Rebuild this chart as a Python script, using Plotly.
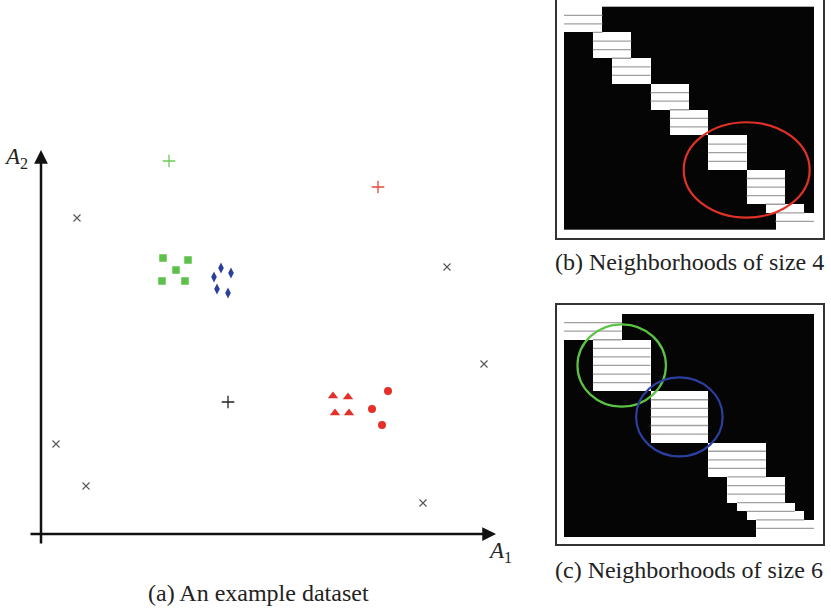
import plotly.graph_objects as go

# ---------------- data: panel (a) example dataset ----------------
noise_x = [3.6, 40.6, 44.3, 1.5, 4.5, 38.2]
noise_y = [31.6, 26.7, 17.0, 9.0, 4.8, 3.1]

plus_x = [12.8, 33.7, 18.7]
plus_y = [37.3, 34.7, 13.2]
plus_colors = ["#6CCB5A", "#E8453C", "#222222"]

square_x = [12.2, 14.7, 13.5, 12.1, 14.4]
square_y = [27.6, 27.4, 26.4, 25.3, 25.3]

diamond_x = [18.0, 17.3, 19.0, 17.6, 18.7]
diamond_y = [26.6, 25.7, 26.1, 24.5, 24.1]

triangle_x = [29.2, 30.7, 29.4, 30.8]
triangle_y = [13.8, 13.7, 12.1, 12.1]

circle_x = [34.7, 33.1, 34.1]
circle_y = [14.3, 12.5, 10.9]

# ---------------- data: neighbourhood matrices ----------------
n_points = 26
size_b = 4
start_b = [0, 0, 0, 3, 3, 3, 5, 5, 5, 9, 9, 9, 11, 11, 11,
           15, 15, 15, 15, 19, 19, 19, 19, 21, 22, 22]
size_c = 6
start_c = [0, 0, 0, 3, 3, 3, 3, 3, 3, 9, 9, 9, 9, 9, 9,
           15, 15, 15, 15, 17, 17, 17, 18, 19, 20, 20]

# highlighted neighbourhoods: (first index, last index, colour)
highlight_b = [(15, 22, "#E03126")]
highlight_c = [(3, 8, "#5BC444"), (9, 14, "#2B3FA0")]
pad_b = [(2.55, 1.55)]
pad_c = [(1.6, 1.8), (1.5, 1.6)]

captions = ["(a) An example dataset", "(b) Neighborhoods of size 4",
            "(c) Neighborhoods of size 6"]

SERIF = "Liberation Serif, Times New Roman, serif"


def matrix(starts, k):
    return [[1 if s <= j < s + k else 0 for j in range(n_points)] for s in starts]


def separators(starts, k):
    xs, ys = [], []
    for i in range(len(starts) - 1):
        lo = max(starts[i], starts[i + 1])
        hi = min(starts[i] + k, starts[i + 1] + k)
        if hi > lo:
            xs += [lo - 0.5, hi - 0.5, None]
            ys += [i + 0.5, i + 0.5, None]
    return xs, ys


fig = go.Figure()

# ---- panel (a) ----
fig.add_trace(go.Scatter(x=noise_x, y=noise_y, mode="markers",
                         marker=dict(symbol="x-thin", size=7, line=dict(width=1.1, color="#555555")),
                         xaxis="x", yaxis="y", hoverinfo="skip"))
fig.add_trace(go.Scatter(x=plus_x, y=plus_y, mode="markers",
                         marker=dict(symbol="cross-thin", size=9,
                                     line=dict(width=1.3, color=plus_colors)),
                         xaxis="x", yaxis="y", hoverinfo="skip"))
fig.add_trace(go.Scatter(x=square_x, y=square_y, mode="markers",
                         marker=dict(symbol="square", size=7.5, color="#5CC04A"),
                         xaxis="x", yaxis="y", hoverinfo="skip"))
fig.add_trace(go.Scatter(x=diamond_x, y=diamond_y, mode="markers",
                         marker=dict(symbol="diamond-tall", size=8, color="#2B3F99"),
                         xaxis="x", yaxis="y", hoverinfo="skip"))
fig.add_trace(go.Scatter(x=triangle_x, y=triangle_y, mode="markers",
                         marker=dict(symbol="triangle-up", size=9, color="#E3312A"),
                         xaxis="x", yaxis="y", hoverinfo="skip"))
fig.add_trace(go.Scatter(x=circle_x, y=circle_y, mode="markers",
                         marker=dict(symbol="circle", size=8, color="#E3312A"),
                         xaxis="x", yaxis="y", hoverinfo="skip"))

# ---- panels (b) and (c) ----
for starts, k, xa, ya in [(start_b, size_b, "x2", "y2"), (start_c, size_c, "x3", "y3")]:
    fig.add_trace(go.Heatmap(z=matrix(starts, k), x=list(range(n_points)), y=list(range(n_points)),
                             colorscale=[[0, "#050505"], [1, "#ffffff"]], showscale=False,
                             zmin=0, zmax=1, xaxis=xa, yaxis=ya, hoverinfo="skip"))
    sx, sy = separators(starts, k)
    fig.add_trace(go.Scatter(x=sx, y=sy, mode="lines", line=dict(color="#a0a0a0", width=1.3),
                             xaxis=xa, yaxis=ya, hoverinfo="skip"))

shapes = []
for hl, pads, xr, yr in [(highlight_b, pad_b, "x2", "y2"), (highlight_c, pad_c, "x3", "y3")]:
    for (a, b, col), (px, py) in zip(hl, pads):
        shapes.append(dict(type="circle", xref=xr, yref=yr,
                           x0=a - 0.5 - px, x1=b + 0.5 + px,
                           y0=a - 0.5 - py, y1=b + 0.5 + py,
                           line=dict(color=col, width=2.2), layer="above"))

cap_font = dict(family=SERIF, size=24, color="#222222")
lab_font = dict(family=SERIF, size=23, color="#222222")
# axis arrows for panel (a)
annotations = [
    dict(x=0, y=38.4, ax=0, ay=-1.1, xref="x", yref="y", axref="x", ayref="y",
         showarrow=True, arrowhead=2, arrowsize=1.1, arrowwidth=2.5, arrowcolor="#111111", text=""),
    dict(x=45.5, y=0, ax=-1.2, ay=0, xref="x", yref="y", axref="x", ayref="y",
         showarrow=True, arrowhead=2, arrowsize=1.1, arrowwidth=2.5, arrowcolor="#111111", text=""),
    dict(x=-2.5, y=37.6, xref="x", yref="y", showarrow=False, xanchor="center", yanchor="middle",
         text="<i>A</i><sub>2</sub>", font=lab_font),
    dict(x=45.9, y=-1.8, xref="x", yref="y", showarrow=False, xanchor="center", yanchor="middle",
         text="<i>A</i><sub>1</sub>", font=lab_font),
    dict(x=258.5 / 831, y=1 - 593 / 612, xref="paper", yref="paper", showarrow=False,
         xanchor="center", yanchor="middle", text=captions[0], font=cap_font),
    dict(x=689 / 831, y=1 - 262 / 612, xref="paper", yref="paper", showarrow=False,
         xanchor="center", yanchor="middle", text=captions[1], font=cap_font),
    dict(x=689 / 831, y=1 - 570 / 612, xref="paper", yref="paper", showarrow=False,
         xanchor="center", yanchor="middle", text=captions[2], font=cap_font),
]

hidden = dict(visible=False, showgrid=False, zeroline=False)
frame = dict(showgrid=False, zeroline=False, showticklabels=False, ticks="",
             showline=True, linecolor="#333333", linewidth=1.6)

fig.update_layout(
    width=831, height=612, margin=dict(l=0, r=0, t=0, b=0),
    paper_bgcolor="white", plot_bgcolor="white", showlegend=False,
    xaxis=dict(domain=[0, 0.65], range=[-4.1, 49.915], **hidden),
    yaxis=dict(domain=[0, 1], range=[-7.8, 53.4], **hidden),
    xaxis2=dict(domain=[557 / 831, 823 / 831], range=[-1.228, 26.436], anchor="y2", mirror=False, **frame),
    yaxis2=dict(domain=[1 - 237.5 / 612, 1.0], range=[26.37, -1.28], anchor="x2", mirror=True, **frame),
    xaxis3=dict(domain=[557 / 831, 823 / 831], range=[-1.228, 26.436], anchor="y3", mirror=True, **frame),
    yaxis3=dict(domain=[1 - 544.3 / 612, 1 - 305 / 612], range=[26.35, -1.549], anchor="x3", mirror=True, **frame),
    shapes=shapes, annotations=annotations,
)

fig.write_html("out.html", config={"displayModeBar": False},
               post_script="document.body.style.margin='0';")
